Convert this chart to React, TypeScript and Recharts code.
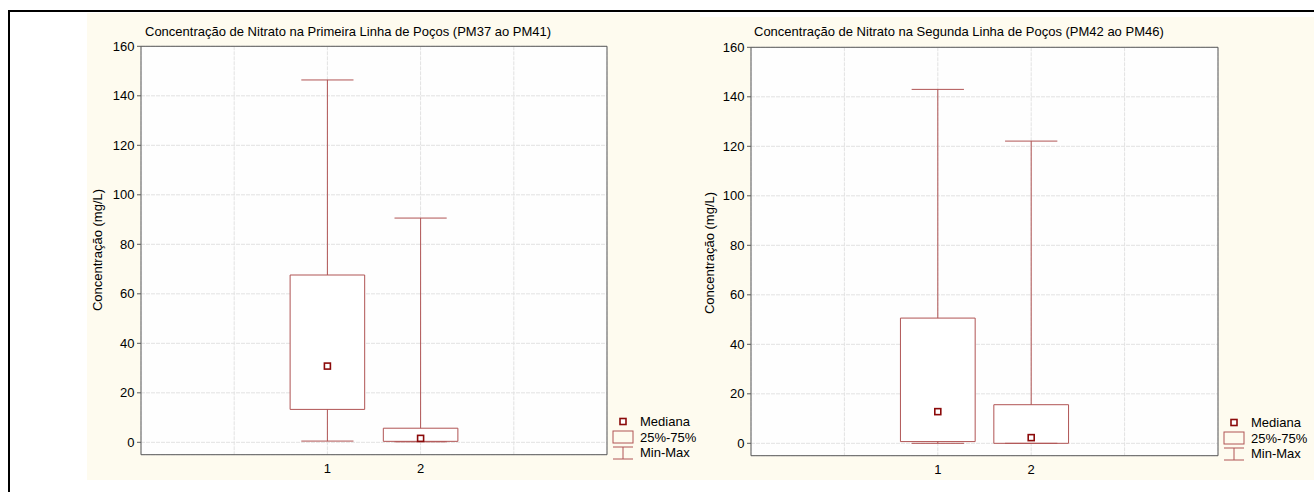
import React from 'react';
import {
  ComposedChart,
  XAxis,
  YAxis,
  CartesianGrid,
  ReferenceArea,
  ReferenceLine,
  Scatter,
} from 'recharts';

// ---------- data ----------
const categories = ['1', '2'];
const yTicks = [0, 20, 40, 60, 80, 100, 120, 140, 160];
const xGridTicks = [1, 2, 3, 4];

const leftTitle = 'Concentração de Nitrato na Primeira Linha de Poços (PM37 ao PM41)';
const leftMin = [0.5, 0.2];
const leftQ1 = [13.3, 0.4];
const leftMedian = [30.8, 1.6];
const leftQ3 = [67.6, 5.7];
const leftMax = [146.4, 90.6];

const rightTitle = 'Concentração de Nitrato na Segunda Linha de Poços (PM42 ao PM46)';
const rightMin = [0, 0];
const rightQ1 = [0.7, 0];
const rightMedian = [12.8, 2.3];
const rightQ3 = [50.6, 15.6];
const rightMax = [143, 122.1];

const yLabel = 'Concentração (mg/L)';
const legendLabels = ['Mediana', '25%-75%', 'Min-Max'];

// ---------- styles ----------
const FONT = '"Liberation Sans", Arial, sans-serif';
const BOX = '#B05454';
const MED = '#8B0A0A';
const CREAM = '#FEFBEF';
const AXIS = '#5A5A5A';

const MedianShape = (props: any) => {
  const { cx, cy } = props;
  if (cx == null || cy == null) return null;
  return (
    <rect x={cx - 3} y={cy - 3} width={6} height={6} fill="#fff" stroke={MED} strokeWidth={1.6} />
  );
};

type PanelProps = {
  mins: number[];
  q1s: number[];
  medians: number[];
  q3s: number[];
  maxs: number[];
  width: number;
  height: number;
  margin: { top: number; right: number; bottom: number; left: number };
  yAxisWidth: number;
};

function BoxPanel({ mins, q1s, medians, q3s, maxs, width, height, margin, yAxisWidth }: PanelProps) {
  const rows = categories.map((c, i) => ({
    x: i + 2,
    label: c,
    min: mins[i],
    q1: q1s[i],
    median: medians[i],
    q3: q3s[i],
    max: maxs[i],
  }));
  const medianData = rows.map((r) => ({ x: r.x, y: r.median }));
  return (
    <ComposedChart width={width} height={height} margin={margin}>
      <CartesianGrid fill="#fefefe" fillOpacity={1} stroke="#E2E2E2" strokeDasharray="4 1" />
      <XAxis
        type="number"
        dataKey="x"
        domain={[0, 5]}
        ticks={xGridTicks}
        tickFormatter={(v: number) => categories[v - 2] ?? ''}
        height={20}
        tickLine={false}
        tickSize={4}
        tickMargin={5}
        axisLine={{ stroke: AXIS }}
        tick={{ fill: '#000', fontSize: 13, fontFamily: FONT }}
        allowDataOverflow
      />
      <YAxis
        type="number"
        dataKey="y"
        domain={[-5, 160]}
        ticks={yTicks}
        width={yAxisWidth}
        tickSize={4}
        tickMargin={2.5}
        axisLine={{ stroke: AXIS }}
        tickLine={{ stroke: AXIS }}
        tick={{ fill: '#000', fontSize: 13, fontFamily: FONT }}
        allowDataOverflow
      />
      <ReferenceLine y={160} stroke={AXIS} ifOverflow="visible" />
      <ReferenceLine x={5} stroke={AXIS} ifOverflow="visible" />
      {rows.map((r) => (
        <ReferenceLine
          key={`wu${r.x}`}
          segment={[{ x: r.x, y: r.q3 }, { x: r.x, y: r.max }]}
          stroke={BOX}
          strokeWidth={1}
        />
      ))}
      {rows.map((r) => (
        <ReferenceLine
          key={`wl${r.x}`}
          segment={[{ x: r.x, y: r.min }, { x: r.x, y: r.q1 }]}
          stroke={BOX}
          strokeWidth={1}
        />
      ))}
      {rows.map((r) => (
        <ReferenceLine
          key={`cu${r.x}`}
          segment={[{ x: r.x - 0.28, y: r.max }, { x: r.x + 0.28, y: r.max }]}
          stroke={BOX}
          strokeWidth={1}
        />
      ))}
      {rows.map((r) => (
        <ReferenceLine
          key={`cl${r.x}`}
          segment={[{ x: r.x - 0.28, y: r.min }, { x: r.x + 0.28, y: r.min }]}
          stroke={BOX}
          strokeWidth={1}
        />
      ))}
      {rows.map((r) => (
        <ReferenceArea
          key={`b${r.x}`}
          x1={r.x - 0.4}
          x2={r.x + 0.4}
          y1={r.q1}
          y2={r.q3}
          fill="#ffffff"
          fillOpacity={1}
          stroke={BOX}
          strokeWidth={1}
        />
      ))}
      <Scatter data={medianData} dataKey="y" shape={MedianShape} isAnimationActive={false} />
    </ComposedChart>
  );
}

function LegendIcons({ ox, oy }: { ox: number; oy: number }) {
  return (
    <g>
      <rect x={ox + 7} y={oy + 4.5} width={6} height={6} fill="#fff" stroke={MED} strokeWidth={1.6} />
      <rect x={ox} y={oy + 17} width={20} height={12} fill="none" stroke={BOX} strokeWidth={1} />
      <line x1={ox} x2={ox + 20} y1={oy + 33} y2={oy + 33} stroke={BOX} />
      <line x1={ox} x2={ox + 20} y1={oy + 45} y2={oy + 45} stroke={BOX} />
      <line x1={ox + 10} x2={ox + 10} y1={oy + 33} y2={oy + 45} stroke={BOX} />
      {legendLabels.map((t, i) => (
        <text key={t} x={ox + 27} y={oy + 7.5 + i * 15.5 + 4.6} fontSize={13} fontFamily={FONT} fill="#000">
          {t}
        </text>
      ))}
    </g>
  );
}

export default function App() {
  return (
    <div
      style={{
        position: 'absolute',
        left: 0,
        top: 0,
        width: 1314,
        height: 492,
        background: '#fff',
        overflow: 'hidden',
        fontFamily: FONT,
      }}
    >
      {/* outer frame */}
      <div
        style={{
          position: 'absolute',
          left: 8,
          top: 10,
          width: 1320,
          height: 500,
          borderTop: '2.5px solid #000',
          borderLeft: '2.5px solid #000',
        }}
      />
      {/* panel backgrounds */}
      <div style={{ position: 'absolute', left: 87, top: 13, width: 613, height: 467, background: CREAM }} />
      <div style={{ position: 'absolute', left: 700, top: 17, width: 614, height: 463, background: CREAM }} />

      <div style={{ position: 'absolute', left: 87, top: 14 }}>
        <BoxPanel
          mins={leftMin}
          q1s={leftQ1}
          medians={leftMedian}
          q3s={leftQ3}
          maxs={leftMax}
          width={573}
          height={466}
          margin={{ top: 32.3, right: 53, bottom: 5.3, left: 0 }}
          yAxisWidth={54}
        />
      </div>
      <div style={{ position: 'absolute', left: 700, top: 14 }}>
        <BoxPanel
          mins={rightMin}
          q1s={rightQ1}
          medians={rightMedian}
          q3s={rightQ3}
          maxs={rightMax}
          width={614}
          height={466}
          margin={{ top: 33.3, right: 96, bottom: 4.3, left: 0 }}
          yAxisWidth={51}
        />
      </div>

      {/* text overlay */}
      <svg
        width={1314}
        height={492}
        style={{ position: 'absolute', left: 0, top: 0, pointerEvents: 'none' }}
      >
        <text x={145} y={36.4} fontSize={13} fontFamily={FONT} fill="#000">
          {leftTitle}
        </text>
        <text x={754} y={36.4} fontSize={13} fontFamily={FONT} fill="#000">
          {rightTitle}
        </text>
        <text
          x={102}
          y={250}
          transform="rotate(-90 102 250)"
          textAnchor="middle"
          fontSize={13}
          fontFamily={FONT}
          fill="#000"
        >
          {yLabel}
        </text>
        <text
          x={714}
          y={253}
          transform="rotate(-90 714 253)"
          textAnchor="middle"
          fontSize={13}
          fontFamily={FONT}
          fill="#000"
        >
          {yLabel}
        </text>
        <LegendIcons ox={613} oy={414} />
        <LegendIcons ox={1224} oy={415} />
      </svg>
    </div>
  );
}
